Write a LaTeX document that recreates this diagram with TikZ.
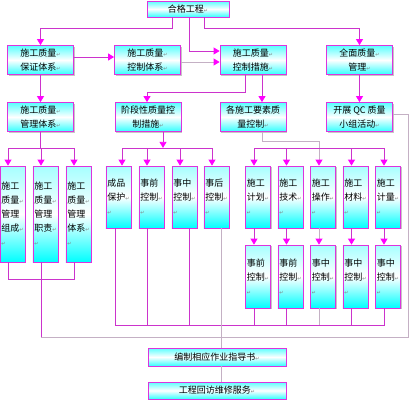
\documentclass[tikz,border=0pt]{standalone}
\usepackage{fontspec}
\setmainfont{Noto Sans CJK SC}
\newfontfamily\symfont{DejaVu Sans}
\usepackage{xcolor}
\usepackage{tikz}
\usetikzlibrary{arrows.meta, shadows}
\definecolor{boxline}{HTML}{DD33DD}
\definecolor{linemag}{HTML}{CC33CC}
\definecolor{linegray}{HTML}{C4B0C4}
\definecolor{tipmag}{HTML}{FF00FF}
\definecolor{boxcyan}{HTML}{00FFFF}
\newcommand{\pmk}{{\symfont\fontsize{5}{5}\selectfont\color{gray}↵}}
\tikzset{
  box/.style  = {rectangle, draw=boxline, line width=0.8pt,
                 top color=boxcyan!65, bottom color=boxcyan!80, middle color=white,
                 minimum width=66pt, minimum height=29pt, inner sep=1pt,
                 align=center, font=\fontsize{9}{14}\selectfont,
                 drop shadow={shadow xshift=1.2pt, shadow yshift=-1.2pt, fill=gray!45, opacity=1}},
  tbox/.style = {box, top color=boxcyan!35, bottom color=boxcyan, middle color=white,
                 minimum width=25pt, inner sep=1.5pt, align=left},
  line/.style   = {draw=linemag, line width=0.8pt},
  gline/.style  = {draw=linegray, line width=0.9pt},
  arrow/.style  = {line, -{Triangle[width=7pt, length=6pt, color=tipmag]}},
  garrow/.style = {gline, -{Triangle[width=7pt, length=6pt, color=tipmag]}},
}
\begin{document}
\begin{tikzpicture}[x=1pt, y=-1pt]
    \useasboundingbox (0,0) rectangle (410,400);

    %% Top levels
    \node[box, minimum width=82pt, minimum height=16pt] (top) at (188,9) {合格工程\pmk};
    \node[box] (r2a) at (40.5,60)  {施工质量\pmk\\保证体系\pmk};
    \node[box] (r2b) at (147.5,60) {施工质量\pmk\\控制体系\pmk};
    \node[box] (r2c) at (253,60)   {施工质量\pmk\\控制措施\pmk};
    \node[box] (r2d) at (359.5,60) {全面质量\pmk\\管理\pmk};
    \node[box] (r3a) at (40.5,117) {施工质量\pmk\\管理体系\pmk};
    \node[box] (r3b) at (148,117)  {阶段性质量控\\制措施\pmk};
    \node[box] (r3c) at (253,117)  {各施工要素质\\量控制\pmk};
    \node[box] (r3d) at (359.5,117){开展 QC 质量\\小组活动\pmk};

    %% Management system
    \node[tbox, minimum height=96pt] (a1) at (12.5,214) {施工\\质量\pmk\\管理\\组成\pmk\\\pmk};
    \node[tbox, minimum height=96pt] (a2) at (45.5,214) {施工\\质量\pmk\\管理\\职责\pmk\\\pmk};
    \node[tbox, minimum height=96pt] (a3) at (78.5,214) {施工\\质量\pmk\\管理\\体系\pmk\\\pmk};

    %% Stage control
    \node[tbox, minimum height=62pt] (b1) at (118.5,197) {成品\\保护\pmk\\\pmk};
    \node[tbox, minimum height=62pt] (b2) at (151.5,197) {事前\\控制\pmk\\\pmk};
    \node[tbox, minimum height=62pt] (b3) at (184.5,197) {事中\\控制\pmk\\\pmk};
    \node[tbox, minimum height=62pt] (b4) at (216.5,197) {事后\\控制\pmk\\\pmk};

    %% Elements
    \node[tbox, minimum height=62pt] (c1) at (258,197)   {施工\\计划\pmk\\\pmk};
    \node[tbox, minimum height=62pt] (c2) at (290.5,197) {施工\\技术\pmk\\\pmk};
    \node[tbox, minimum height=62pt] (c3) at (323,197)   {施工\\操作\pmk\\\pmk};
    \node[tbox, minimum height=62pt] (c4) at (355.5,197) {施工\\材料\pmk\\\pmk};
    \node[tbox, minimum height=62pt] (c5) at (388,197)   {施工\\计量\pmk\\\pmk};
    \node[tbox, minimum height=63pt] (d1) at (258,276.5)   {事前\\控制\pmk\\\pmk};
    \node[tbox, minimum height=63pt] (d2) at (290.5,276.5) {事前\\控制\pmk\\\pmk};
    \node[tbox, minimum height=63pt] (d3) at (323,276.5)   {事中\\控制\pmk\\\pmk};
    \node[tbox, minimum height=63pt] (d4) at (355.5,276.5) {事中\\控制\pmk\\\pmk};
    \node[tbox, minimum height=63pt] (d5) at (388,276.5)   {事中\\控制\pmk\\\pmk};

    %% Bottom
    \node[box, minimum width=138pt, minimum height=18pt] (e1) at (217,357)   {编制相应作业指导书\pmk};
    \node[box, minimum width=138pt, minimum height=17pt] (e2) at (217,390.5) {工程回访维修服务\pmk};

    %% Connectors
    \draw[arrow] ([xshift=-16pt]top.south) -- ++(0,11) -| (r2a.north);
    \draw[arrow] ([xshift=1pt]top.south) |- ([yshift=9pt]r2c.west);
    \draw[arrow] ([xshift=16pt]top.south) -- ++(0,11) -| (r2d.north);
    \draw[arrow] ([yshift=3pt]r2a.east) -- ([yshift=3pt]r2b.west);
    \draw[garrow] ([yshift=-2pt]r2b.east) -- ([yshift=-2pt]r2c.west);
    \draw[arrow] (r2a.south) -- (r3a.north);
    \draw[arrow] ([xshift=-8pt]r2c.south) -- ++(0,17) -| ([xshift=-1pt]r3b.north);
    \draw[arrow] ([xshift=9pt]r2c.south) -- ([xshift=9pt]r3c.north);
    \draw[arrow] (r2d.south) -- (r3d.north);

    \draw[line] (r3a.south) -- ++(0,16) coordinate (ja);
    \draw[arrow] (ja) -| ([xshift=-4.5pt]a1.north);
    \draw[arrow] (ja) -| ([xshift=-4.5pt]a2.north);
    \draw[arrow] (ja) -| ([xshift=-4.5pt]a3.north);

    \draw[arrow] ([xshift=15pt]r3b.south) -- ++(0,16) coordinate (jb);
    \draw[arrow] (jb) -| ([xshift=3.5pt]b1.north);
    \draw[arrow] (jb) -| ([xshift=-4.5pt]b2.north);
    \draw[arrow] (jb) -| ([xshift=-4.5pt]b3.north);
    \draw[arrow] (jb) -| ([xshift=-4.5pt]b4.north);

    \draw[gline] ([xshift=9pt]r3c.south) -- ++(0,10) -- ++(57,0) -- ++(0,6) coordinate (jc);
    \draw[arrow] (jc) -| ([xshift=-4pt]c1.north);
    \draw[arrow] (jc) -| ([xshift=-4pt]c2.north);
    \draw[garrow] (jc) -- ([xshift=-4pt]c3.north);
    \draw[arrow] (jc) -| ([xshift=-4pt]c4.north);
    \draw[arrow] (jc) -| ([xshift=-4pt]c5.north);

    \draw[arrow] ([xshift=-4pt]c1.south) -- ([xshift=-4pt]d1.north);
    \draw[arrow] ([xshift=-4pt]c2.south) -- ([xshift=-4pt]d2.north);
    \draw[garrow] ([xshift=-4pt]c3.south) -- ([xshift=-4pt]d3.north);
    \draw[arrow] ([xshift=-4pt]c4.south) -- ([xshift=-4pt]d4.north);
    \draw[arrow] ([xshift=-4pt]c5.south) -- ([xshift=-4pt]d5.north);

    %% Returns to the work instructions
    \draw[line] ([xshift=-4.5pt]a1.south) -- ++(0,17) -| ([xshift=-4.5pt]a3.south);
    \draw[line] ([xshift=-4.5pt]a2.south) -- ++(0,75) coordinate (jd);
    \draw[gline] ([yshift=3pt]r3d.east) -- ++(16,0) |- (jd);

    \draw[line] ([xshift=-3.5pt]b1.south) -- ++(0,97) -| ([xshift=-4pt]d5.south);
    \draw[line] ([xshift=-4.5pt]b2.south) -- +(0,97);
    \draw[line] ([xshift=4.5pt]b3.south) -- +(0,97);
    \draw[line] ([xshift=-4pt]d1.south) -- +(0,17);
    \draw[line] ([xshift=-4pt]d2.south) -- +(0,17);
    \draw[gline] ([xshift=-4pt]d3.south) -- +(0,17);
    \draw[line] ([xshift=-4pt]d4.south) -- +(0,17);
    \draw[gline] ([xshift=4.5pt]b4.south) -- ([xshift=4pt]e1.north);
    \draw[gline] ([xshift=4pt]e1.south) -- ([xshift=4pt]e2.north);

  \end{tikzpicture}
\end{document}
